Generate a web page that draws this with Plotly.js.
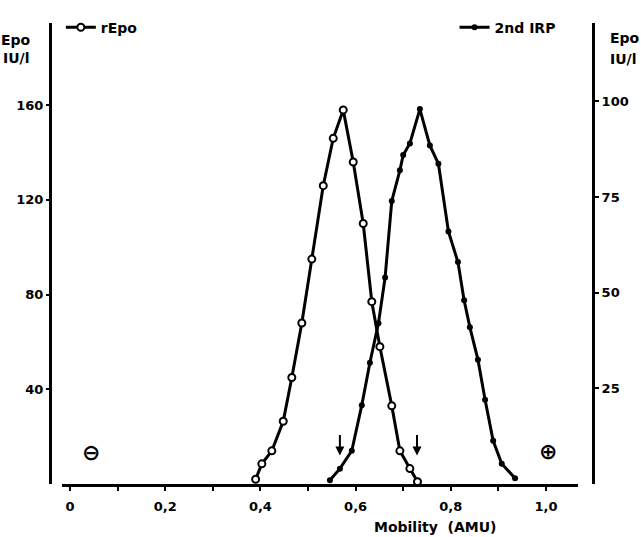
<!DOCTYPE html>
<html>
<head>
<meta charset="utf-8">
<script src="https://cdn.plot.ly/plotly-3.0.1.min.js"></script>
<style>html,body{margin:0;padding:0;background:#fff;}#chart{width:644px;height:537px;}</style>
</head>
<body>
<div id="chart"></div>
<script>
// rEpo (left axis, IU/l)
const rEpoMobility = [0.390, 0.403, 0.424, 0.448, 0.466, 0.487, 0.508, 0.532, 0.553, 0.574, 0.595, 0.616, 0.634, 0.651, 0.676, 0.693, 0.714, 0.730];
const rEpoValues   = [2, 8.5, 14, 26.5, 45, 68, 95, 126, 146, 158, 136, 110, 77, 58, 33, 14, 6.5, 1];
// 2nd IRP (right axis, IU/l)
const irpMobility = [0.546, 0.567, 0.592, 0.613, 0.630, 0.648, 0.662, 0.676, 0.693, 0.700, 0.714, 0.735, 0.756, 0.774, 0.795, 0.815, 0.828, 0.840, 0.857, 0.872, 0.889, 0.907, 0.935];
const irpValues   = [1, 4, 8.7, 20.6, 31.7, 42, 54, 74, 82, 86, 89, 98, 88.5, 83.7, 66, 58, 48, 41, 32.5, 22, 11.3, 5.3, 1.5];
// axis ticks
const xTickVals = [0, 0.1, 0.2, 0.3, 0.4, 0.5, 0.6, 0.7, 0.8, 0.9, 1.0];
const xTickText = ['0', '', '0,2', '', '0,4', '', '0,6', '', '0,8', '', '1,0'];
const leftTicks = [40, 80, 120, 160];
const rightTicks = [25, 50, 75, 100];
// arrows marking the peaks
const arrowMobility = [0.567, 0.729];

const F = {family: 'DejaVu Sans', size: 14, color: '#000', weight: 'bold'};
const FT = {family: 'DejaVu Sans', size: 13, color: '#000', weight: 'bold'};

const traces = [
  {x: rEpoMobility, y: rEpoValues, name: 'rEpo', type: 'scatter', mode: 'lines+markers',
   line: {color: '#000', width: 3},
   marker: {symbol: 'circle', size: 7, color: '#fff', line: {color: '#000', width: 2}},
   yaxis: 'y', legend: 'legend'},
  {x: irpMobility, y: irpValues, name: '2nd IRP', type: 'scatter', mode: 'lines+markers',
   line: {color: '#000', width: 3},
   marker: {symbol: 'circle', size: 6, color: '#000'},
   yaxis: 'y2', legend: 'legend2'}
];

const annotations = [
  {xref: 'paper', yref: 'paper', x: -0.094, y: 0.963, xanchor: 'left', yanchor: 'middle', text: 'Epo', showarrow: false, font: F},
  {xref: 'paper', yref: 'paper', x: -0.090, y: 0.925, xanchor: 'left', yanchor: 'middle', text: 'IU/l', showarrow: false, font: F},
  {xref: 'paper', yref: 'paper', x: 1.028, y: 0.968, xanchor: 'left', yanchor: 'middle', text: 'Epo', showarrow: false, font: F},
  {xref: 'paper', yref: 'paper', x: 1.028, y: 0.922, xanchor: 'left', yanchor: 'middle', text: 'IU/l', showarrow: false, font: F},
  {xref: 'paper', yref: 'paper', x: 0.055, y: 0.036, text: '⊖', showarrow: false, font: {family: 'DejaVu Sans', size: 22, color: '#000'}},
  {xref: 'paper', yref: 'paper', x: 0.937, y: 0.040, text: '⊕', showarrow: false, font: {family: 'DejaVu Sans', size: 22, color: '#000'}},
  {xref: 'paper', yref: 'paper', x: 0.825, y: -0.093, yanchor: 'middle', text: 'Mobility  (AMU)', showarrow: false, font: F}
];
arrowMobility.forEach(m => annotations.push({
  x: m, y: 12, xref: 'x', yref: 'y', ax: 0, ay: -22, showarrow: true,
  arrowhead: 2, arrowsize: 0.9, arrowwidth: 2, arrowcolor: '#000', text: ''
}));

const layout = {
  width: 644, height: 537,
  margin: {l: 50, r: 51, t: 13, b: 53, pad: 0},
  paper_bgcolor: '#fff', plot_bgcolor: '#fff',
  font: F,
  showlegend: true,
  legend: {x: 0.02, y: 0.99, xanchor: 'left', yanchor: 'middle', bgcolor: 'rgba(0,0,0,0)', font: F, itemwidth: 30},
  legend2: {x: 0.745, y: 0.99, xanchor: 'left', yanchor: 'middle', bgcolor: 'rgba(0,0,0,0)', font: F, itemwidth: 30},
  xaxis: {
    domain: [12 / 543, 528 / 543], range: [-0.0168, 1.0672], anchor: 'y',
    showline: true, linewidth: 2.5, linecolor: '#000', mirror: false,
    tickmode: 'array', tickvals: xTickVals, ticktext: xTickText,
    ticks: 'outside', ticklen: 4, tickwidth: 2, tickcolor: '#000',
    showgrid: false, zeroline: false, ticklabelstandoff: 5, tickfont: FT
  },
  yaxis: {
    range: [0, 194.7], anchor: 'free', position: 0,
    showline: true, linewidth: 3, linecolor: '#000',
    tickmode: 'array', tickvals: leftTicks,
    ticks: 'outside', ticklen: 3, tickwidth: 2, tickcolor: '#000',
    showgrid: false, zeroline: false, tickfont: FT
  },
  yaxis2: {
    range: [0, 120.5], anchor: 'free', position: 1, overlaying: 'y', side: 'right',
    showline: true, linewidth: 3, linecolor: '#000',
    tickmode: 'array', tickvals: rightTicks,
    ticks: 'outside', ticklen: 4, tickwidth: 2, tickcolor: '#000',
    showgrid: false, zeroline: false, tickfont: FT
  },
  annotations: annotations
};

Plotly.newPlot('chart', traces, layout, {displayModeBar: false, staticPlot: true});
</script>
</body>
</html>
